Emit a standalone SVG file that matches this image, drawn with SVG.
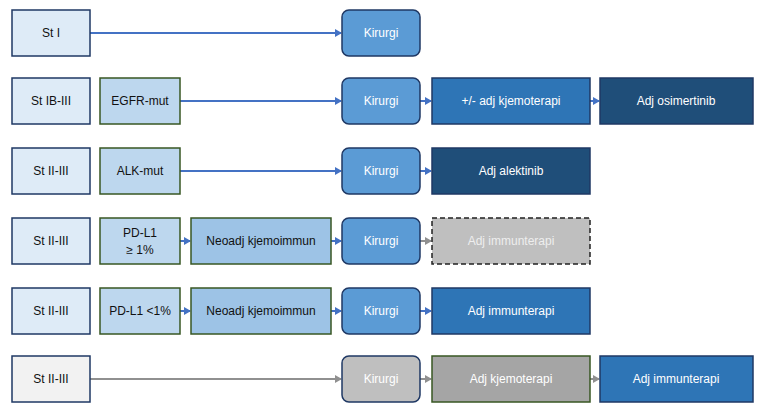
<svg xmlns="http://www.w3.org/2000/svg" width="768" height="410" viewBox="0 0 768 410">
<style>
text{font-family:"Liberation Sans",Arial,sans-serif;font-size:12px;text-anchor:middle;dominant-baseline:central}
.st{fill:#deebf7;stroke:#1f3864;stroke-width:1.5}
.stg{fill:#f2f2f2;stroke:#1f3864;stroke-width:1.5}
.mut{fill:#bdd7ee;stroke:#385723;stroke-width:1.5}
.neo{fill:#9dc3e6;stroke:#385723;stroke-width:1.5}
.kir{fill:#5b9bd5;stroke:#1f3864;stroke-width:1.5}
.kirg{fill:#bfbfbf;stroke:#1f3864;stroke-width:1.5}
.mid{fill:#2e75b6;stroke:#1f3864;stroke-width:1.5}
.dark{fill:#1f4e79;stroke:#1f3864;stroke-width:1.5}
.gr{fill:#a5a5a5;stroke:#385723;stroke-width:1.5}
.dash{fill:#bfbfbf;stroke:#222;stroke-width:1.5;stroke-dasharray:5 3}
.w{fill:#fff}.k{fill:#111}.lg{fill:#eee}
.c{stroke:#4472c4;stroke-width:2;fill:none;marker-end:url(#ab)}
.cg{stroke:#909090;stroke-width:2;fill:none;marker-end:url(#ag)}
</style>
<defs>
<marker id="ab" markerWidth="8" markerHeight="8" refX="6" refY="4" orient="auto" markerUnits="userSpaceOnUse"><path d="M0,0 L7,4 L0,8 z" fill="#4472c4"/></marker>
<marker id="ag" markerWidth="8" markerHeight="8" refX="6" refY="4" orient="auto" markerUnits="userSpaceOnUse"><path d="M0,0 L7,4 L0,8 z" fill="#909090"/></marker>
</defs>
<g id="connectors">
<path class="c" d="M90,33 H341"/>
<path class="c" d="M180,101 H341"/><path class="c" d="M420,101 H431"/><path class="c" d="M590,101 H599"/>
<path class="c" d="M180,171 H341"/><path class="c" d="M420,171 H431"/>
<path class="c" d="M180,241 H190"/><path class="c" d="M331,241 H341"/><path class="cg" d="M420,241 H431"/>
<path class="c" d="M180,311 H190"/><path class="c" d="M331,311 H341"/><path class="c" d="M420,311 H431"/>
<path class="cg" d="M90,379 H341"/><path class="cg" d="M420,379 H431"/><path class="cg" d="M590,379 H599"/>
</g>
<g id="r1s"><rect class="st" x="12" y="10" width="78" height="46"/><text x="51" y="33" class="k">St I</text></g>
<g id="r1k"><rect class="kir" x="342" y="10" width="78" height="46" rx="7"/><text x="381" y="33" class="w">Kirurgi</text></g>

<g id="r2s"><rect class="st" x="12" y="78" width="78" height="46"/><text x="51" y="101" class="k">St IB-III</text></g>
<g id="r2m"><rect class="mut" x="100" y="78" width="80" height="46"/><text x="140" y="101" class="k">EGFR-mut</text></g>
<g id="r2k"><rect class="kir" x="342" y="78" width="78" height="46" rx="7"/><text x="381" y="101" class="w">Kirurgi</text></g>
<g id="r2a"><rect class="mid" x="432" y="78" width="158" height="46"/><text x="511" y="101" class="w">+/- adj kjemoterapi</text></g>
<g id="r2b"><rect class="dark" x="600" y="78" width="153" height="46"/><text x="676" y="101" class="w">Adj osimertinib</text></g>

<g id="r3s"><rect class="st" x="12" y="148" width="78" height="46"/><text x="51" y="171" class="k">St II-III</text></g>
<g id="r3m"><rect class="mut" x="100" y="148" width="80" height="46"/><text x="140" y="171" class="k">ALK-mut</text></g>
<g id="r3k"><rect class="kir" x="342" y="148" width="78" height="46" rx="7"/><text x="381" y="171" class="w">Kirurgi</text></g>
<g id="r3a"><rect class="dark" x="432" y="148" width="158" height="46"/><text x="511" y="171" class="w">Adj alektinib</text></g>

<g id="r4s"><rect class="st" x="12" y="218" width="78" height="46"/><text x="51" y="241" class="k">St II-III</text></g>
<g id="r4m"><rect class="mut" x="100" y="218" width="80" height="46"/><text x="140" y="233" class="k">PD-L1</text><text x="140" y="250" class="k">≥ 1%</text></g>
<g id="r4n"><rect class="neo" x="191" y="218" width="140" height="46"/><text x="261" y="241" class="k">Neoadj kjemoimmun</text></g>
<g id="r4k"><rect class="kir" x="342" y="218" width="78" height="46" rx="7"/><text x="381" y="241" class="w">Kirurgi</text></g>
<g id="r4a"><rect class="dash" x="432" y="218" width="158" height="46"/><text x="511" y="241" class="lg">Adj immunterapi</text></g>

<g id="r5s"><rect class="st" x="12" y="288" width="78" height="46"/><text x="51" y="311" class="k">St II-III</text></g>
<g id="r5m"><rect class="mut" x="100" y="288" width="80" height="46"/><text x="140" y="311" class="k">PD-L1 &lt;1%</text></g>
<g id="r5n"><rect class="neo" x="191" y="288" width="140" height="46"/><text x="261" y="311" class="k">Neoadj kjemoimmun</text></g>
<g id="r5k"><rect class="kir" x="342" y="288" width="78" height="46" rx="7"/><text x="381" y="311" class="w">Kirurgi</text></g>
<g id="r5a"><rect class="mid" x="432" y="288" width="158" height="46"/><text x="511" y="311" class="w">Adj immunterapi</text></g>

<g id="r6s"><rect class="stg" x="12" y="356" width="78" height="46"/><text x="51" y="379" class="k">St II-III</text></g>
<g id="r6k"><rect class="kirg" x="342" y="356" width="78" height="46" rx="7"/><text x="381" y="379" class="w">Kirurgi</text></g>
<g id="r6a"><rect class="gr" x="432" y="356" width="158" height="46"/><text x="511" y="379" class="w">Adj kjemoterapi</text></g>
<g id="r6b"><rect class="mid" x="600" y="356" width="153" height="46"/><text x="676" y="379" class="w">Adj immunterapi</text></g>
</svg>
